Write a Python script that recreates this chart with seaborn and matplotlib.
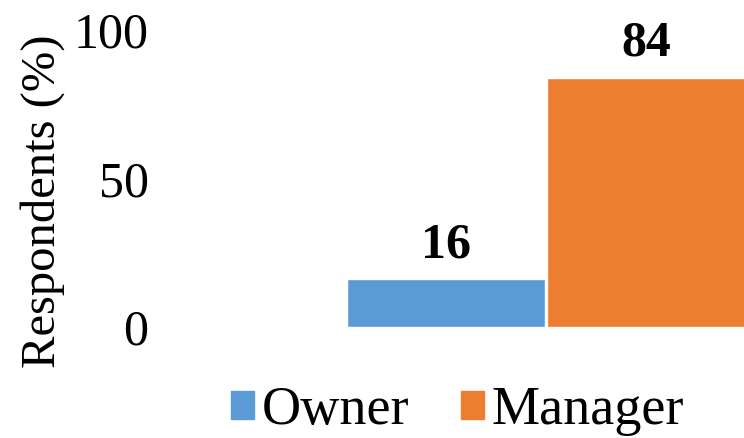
import matplotlib
matplotlib.use("Agg")

import matplotlib.pyplot as plt
import pandas as pd
import seaborn as sns

# Share of respondents by role.
roles = ["Owner", "Manager"]
shares = [16, 84]
colors = ["#5B9BD5", "#ED7D31"]
y_ticks = [0, 50, 100]


def main() -> None:
    sns.set_theme(style="white", rc={"text.color": "black",
                                     "axes.labelcolor": "black",
                                     "ytick.color": "black"})
    plt.rcParams["font.family"] = ["Liberation Serif", "DejaVu Serif"]

    df = pd.DataFrame({"role": roles, "share": shares})

    fig = plt.figure(figsize=(7.44, 4.38), dpi=100)
    ax = fig.add_axes([0.2016, 0.2534, 0.7984, 0.678])

    sns.barplot(
        data=df, x="role", y="share", hue="role", hue_order=roles,
        palette=colors, saturation=1, width=0.99, edgecolor="white",
        linewidth=1, legend=False, ax=ax,
    )

    for container in ax.containers:
        ax.bar_label(container, fmt="%d", padding=8,
                     fontsize=36, fontweight="bold", color="black")

    ax.set_xlim(-1.48, 1.4875)
    ax.set_ylim(0, 100)
    ax.set_yticks(y_ticks)
    ax.tick_params(axis="y", labelsize=36, length=0, pad=1)
    ax.set_xticks([])
    ax.set_xlabel("")
    ax.set_ylabel("Respondents (%)", fontsize=35, labelpad=6, y=0.425)
    sns.despine(ax=ax, left=True, bottom=True)

    handles = [plt.Rectangle((0, 0), 1, 1, color=c) for c in colors]
    fig.legend(handles, roles, loc="center", bbox_to_anchor=(0.615, 0.062),
               ncol=2, frameon=False, fontsize=39, handlelength=0.42,
               handleheight=0.42, handletextpad=0.15, columnspacing=0.95)

    fig.savefig("out.png", dpi=100)
    plt.close(fig)


if __name__ == "__main__":
    main()
